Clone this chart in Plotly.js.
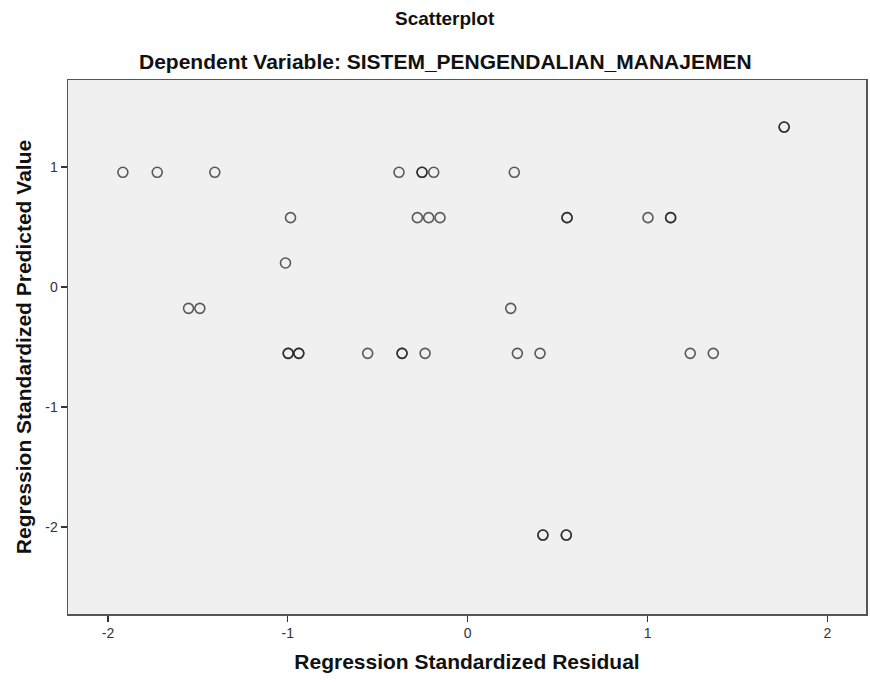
<!DOCTYPE html>
<html>
<head>
<meta charset="utf-8">
<script src="https://cdn.plot.ly/plotly-3.0.1.min.js"></script>
<style>html,body{margin:0;padding:0;background:#fff;}#chart{width:870px;height:682px;}</style>
</head>
<body>
<div id="chart"></div>
<script>
// Regression Standardized Residual (x) and Standardized Predicted Value (y)
const residual = [
  -1.917, -1.726, -1.406, -0.382, -0.254, -0.254, -0.189, 0.259,
  -0.985, -0.280, -0.217, -0.154, 0.552, 0.552, 1.002, 1.128, 1.128,
  1.759, 1.759,
  -1.013,
  -1.552, -1.489, 0.239,
  -0.998, -0.998, -0.939, -0.939, -0.556, -0.365, -0.365, -0.237, 0.276, 0.402, 1.237, 1.365,
  0.418, 0.418, 0.548, 0.548
];
const predicted = [
  0.956, 0.956, 0.956, 0.956, 0.956, 0.956, 0.956, 0.956,
  0.578, 0.578, 0.578, 0.578, 0.578, 0.578, 0.578, 0.578, 0.578,
  1.333, 1.333,
  0.200,
  -0.178, -0.178, -0.178,
  -0.553, -0.553, -0.553, -0.553, -0.553, -0.553, -0.553, -0.553, -0.553, -0.553, -0.553, -0.553,
  -2.067, -2.067, -2.067, -2.067
];
const xTicks = [-2, -1, 0, 1, 2];
const yTicks = [-2, -1, 0, 1];
const chartTitle = 'Scatterplot';
const chartSubtitle = 'Dependent Variable: SISTEM_PENGENDALIAN_MANAJEMEN';
const xTitle = 'Regression Standardized Residual';
const yTitle = 'Regression Standardized Predicted Value';

const font = 'Liberation Sans, Arial, sans-serif';

const trace = {
  x: residual, y: predicted, type: 'scatter', mode: 'markers',
  marker: {symbol: 'circle-open', size: 10, color: 'rgba(30,30,30,0.72)', line: {width: 1.6, color: 'rgba(30,30,30,0.72)'}},
  hoverinfo: 'x+y'
};

const layout = {
  width: 870, height: 682,
  margin: {l: 68, r: 4, t: 80, b: 68},
  paper_bgcolor: '#ffffff',
  plot_bgcolor: '#f0f0f0',
  showlegend: false,
  font: {family: font, color: '#222'},
  xaxis: {
    range: [-2.222, 2.214], tickvals: xTicks, ticktext: xTicks.map(String),
    ticks: 'outside', ticklen: 6, tickwidth: 1.3, tickcolor: '#333',
    showgrid: false, zeroline: false,
    showline: true, mirror: true, linecolor: '#555', linewidth: 1.5,
    tickfont: {size: 14, color: '#333', family: font},
    title: {text: xTitle, font: {size: 21, family: font, color: '#111', weight: 'bold'}, standoff: 14}
  },
  yaxis: {
    range: [-2.725, 1.725], tickvals: yTicks, ticktext: yTicks.map(String),
    ticks: 'outside', ticklen: 6, tickwidth: 1.3, tickcolor: '#333',
    showgrid: false, zeroline: false,
    showline: true, mirror: true, linecolor: '#555', linewidth: 1.5,
    tickfont: {size: 14, color: '#333', family: font},
    title: {text: yTitle, font: {size: 21, family: font, color: '#111', weight: 'bold'}, standoff: 8}
  },
  annotations: [
    {text: '<b>' + chartTitle + '</b>', xref: 'paper', yref: 'paper', x: 0.4725, y: 1.116,
     xanchor: 'center', yanchor: 'middle', showarrow: false, font: {size: 19, family: font, color: '#111'}},
    {text: '<b>' + chartSubtitle + '</b>', xref: 'paper', yref: 'paper', x: 0.4725, y: 1.034,
     xanchor: 'center', yanchor: 'middle', showarrow: false, font: {size: 21, family: font, color: '#111'}}
  ]
};

Plotly.newPlot('chart', [trace], layout, {displayModeBar: false, staticPlot: true});
</script>
</body>
</html>
